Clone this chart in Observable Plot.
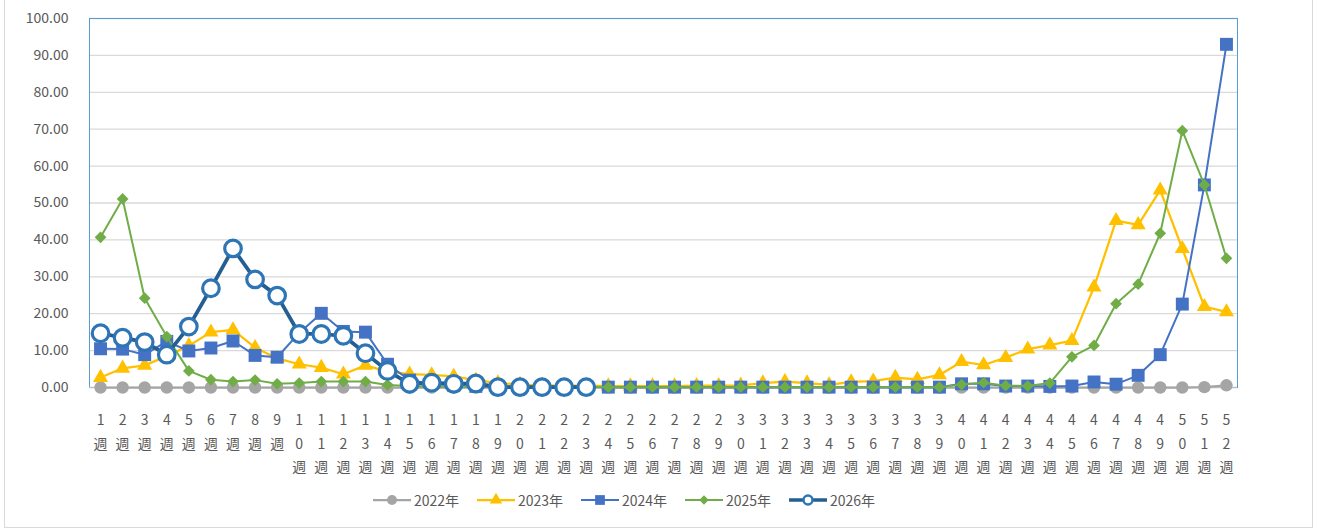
<!DOCTYPE html>
<html><head><meta charset="utf-8">
<script src="https://cdn.jsdelivr.net/npm/d3@7"></script>
<script src="https://cdn.jsdelivr.net/npm/@observablehq/plot@0.6"></script>
<style>
body{margin:0;background:#fff;font-family:"Noto Sans CJK JP","Noto Sans",sans-serif;}
#wrap{position:relative;width:1317px;height:529px;overflow:hidden;background:#fff;}
#border{position:absolute;left:4px;top:-2px;width:1309px;height:530px;border:1px solid #d9d9d9;box-sizing:border-box;}
#chart{position:absolute;left:0;top:0;}
#legend{position:absolute;left:373px;top:489px;height:22px;display:flex;align-items:center;font-size:14px;color:#595959;}
.item{display:flex;align-items:center;width:104px;}
.item svg{margin-right:3px;}
</style></head>
<body>
<div id="wrap"><div id="border"></div><div id="chart"></div><div id="legend"></div></div>
<script>
const weeks = [1,2,3,4,5,6,7,8,9,10,11,12,13,14,15,16,17,18,19,20,21,22,23,24,25,26,27,28,29,30,31,32,33,34,35,36,37,38,39,40,41,42,43,44,45,46,47,48,49,50,51,52];
const yTicks = [0,10,20,30,40,50,60,70,80,90,100];
const seriesNames = ["2022年","2023年","2024年","2025年","2026年"];
const y2022 = [0,0,0,0,0,0,0,0,0,0,0,0,0,0,0,0,0,0,0,0,0,0,0,0,0,0,0,0,0,0,0,0,0,0,0,0,0,0,0,0,0,0,0,0,0,0,0,0,0,0,0.1,0.6];
const y2023 = [2.7,5.2,6.0,8.5,11.3,15.0,15.6,10.8,7.9,6.3,5.4,3.6,6.0,4.3,3.6,3.4,3.0,2.0,1.2,0.8,0.6,0.5,0.5,0.4,0.4,0.4,0.4,0.5,0.5,0.6,1.2,1.6,1.2,0.7,1.5,1.7,2.7,2.2,3.4,7.0,6.1,8.1,10.4,11.5,12.7,27.2,45.2,44.1,53.5,37.6,21.9,20.5];
const y2024 = [10.5,10.4,8.9,12.5,9.9,10.7,12.6,8.7,8.2,14.8,20.1,15.2,15.0,6.3,2.0,1.0,0.5,0.3,0.2,0.2,0.2,0.2,0.2,0.1,0.1,0.1,0.1,0.1,0.1,0.1,0.1,0.1,0.1,0.1,0.1,0.1,0.1,0.1,0.1,1.0,1.0,0.4,0.4,0.3,0.4,1.5,0.9,3.3,8.9,22.6,54.9,93.0];
const y2025 = [40.7,51.1,24.2,13.8,4.5,2.1,1.6,2.0,1.0,1.2,1.6,1.6,1.6,0.7,0.4,0.3,0.3,0.3,0.3,0.3,0.3,0.3,0.3,0.1,0.1,0.1,0.1,0.1,0.1,0.1,0.1,0.1,0.1,0.1,0.1,0.1,0.1,0.1,0.1,0.8,1.3,0.5,0.4,1.2,8.3,11.4,22.7,28.0,41.8,69.6,54.9,35.0];
const y2026 = [14.7,13.5,12.3,8.9,16.5,26.9,37.7,29.3,24.9,14.5,14.5,14.0,9.3,4.5,1.0,1.3,1.0,1.1,0.1,0.1,0.1,0.1,0.1];

const values = [y2022, y2023, y2024, y2025, y2026];
const styles = [
  {line:"#A5A5A5", lw:2.25, symbol:"circle", r:6.2, fill:"#A5A5A5", stroke:"none", sw:0, lr:5},
  {line:"#FFC000", lw:2.25, symbol:"triangle", r:5.6, fill:"#FFC000", stroke:"none", sw:0, lr:4.6},
  {line:"#4472C4", lw:2, symbol:"square", r:7.3, fill:"#4472C4", stroke:"none", sw:0, lr:5.5},
  {line:"#70AD47", lw:2, symbol:"diamond2", r:5.3, fill:"#70AD47", stroke:"none", sw:0, lr:4.2},
  {line:"#255E91", lw:3.75, symbol:"circle", r:8.3, fill:"#ffffff", stroke:"#2E75B6", sw:3.2, lr:4.5}
];
const data = seriesNames.map((name, i) => values[i].map((v, j) => ({week: weeks[j], value: v, series: name})));

const marks = [
  Plot.gridY(yTicks.filter(d => d > 0), {stroke:"#D9D9D9", strokeOpacity:1, strokeWidth:1.3}),
  Plot.frame({stroke:"#5B9BD5", strokeWidth:1}),
  Plot.ruleY([0], {stroke:"#BFBFBF", strokeWidth:1.5}),
  Plot.axisY({ticks: yTicks, tickFormat: d3.format(".2f"), tickSize:0, tickPadding:21, fontSize:14, fill:"#595959", label:null}),
  Plot.axisX({tickSize:0, tickPadding:21, fontSize:14, fill:"#595959", lineHeight:1.68, label:null,
    tickFormat: d => String(d).split("").join("\n") + "\n週"})
];
data.forEach((rows, i) => {
  const s = styles[i];
  marks.push(Plot.line(rows, {x:"week", y:"value", stroke:s.line, strokeWidth:s.lw, curve:"linear"}));
  marks.push(Plot.dot(rows, {x:"week", y:"value", symbol:()=>s.symbol, r:s.r, fill:s.fill, stroke:s.stroke, strokeWidth:s.sw}));
});

const chart = Plot.plot({
  width:1317, height:480,
  marginTop:18, marginBottom:93, marginLeft:89, marginRight:80,
  style:{fontFamily:'"Noto Sans CJK JP","Noto Sans",sans-serif', fontSize:"14px", background:"transparent", overflow:"visible"},
  x:{type:"point", domain:weeks, padding:0.5, round:false},
  y:{domain:[0,100]},
  symbol:{type:"identity"},
  marks
});
document.getElementById("chart").appendChild(chart);

// legend
const leg = d3.select("#legend");
seriesNames.forEach((name, i) => {
  const s = styles[i];
  const it = leg.append("div").attr("class","item");
  const svg = it.append("svg").attr("width",38).attr("height",16);
  svg.append("line").attr("x1",0).attr("x2",38).attr("y1",8).attr("y2",8).attr("stroke",s.line).attr("stroke-width",Math.min(s.lw,3.5));
  const symMap = {circle:d3.symbolCircle, triangle:d3.symbolTriangle, square:d3.symbolSquare, diamond2:d3.symbolDiamond2};
  svg.append("path").attr("transform","translate(19,8)")
    .attr("d", d3.symbol(symMap[s.symbol], Math.PI*s.lr*s.lr)())
    .attr("fill", s.fill).attr("stroke", s.stroke).attr("stroke-width", s.sw ? 2.5 : 0);
  it.append("span").text(name);
});
</script>
</body></html>
